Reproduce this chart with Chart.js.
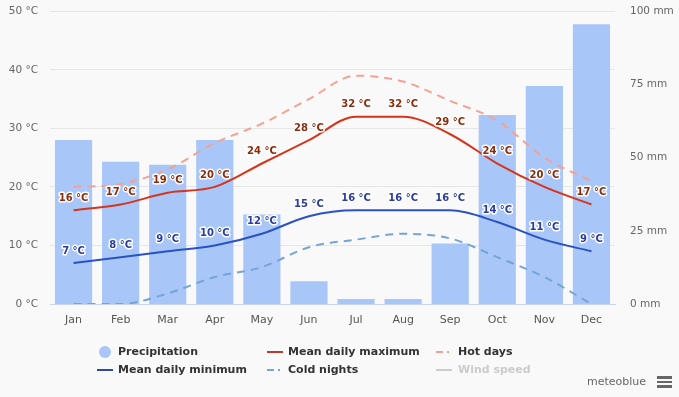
<!DOCTYPE html>
<html>
<head>
<meta charset="utf-8">
<script src="https://cdn.jsdelivr.net/npm/chart.js@4"></script>
<style>
  body { margin: 0; background: #f9f9f9; font-family: "DejaVu Sans", Verdana, sans-serif; }
  #wrap { position: relative; width: 679px; height: 397px; overflow: hidden; }
  #myChart { position: absolute; left: 0; top: -10px; }
  .legend { position: absolute; left: 0; top: 0; font-size: 11px; font-weight: bold; color: #333; }
  .item { position: absolute; white-space: nowrap; }
  .sym { position: absolute; }
  .brand { position: absolute; left: 587px; top: 375px; font-size: 11px; color: #666; }
  .burger { position: absolute; left: 657px; top: 376px; width: 15px; }
  .burger div { height: 2.5px; background: #666; margin-bottom: 2px; }
</style>
</head>
<body>
<div id="wrap">
  <canvas id="myChart" width="679" height="407"></canvas>
  <div class="legend" id="legend"></div>
  <div class="brand">meteoblue</div>
  <div class="burger"><div></div><div></div><div></div></div>
</div>
<script>
const months = ['Jan', 'Feb', 'Mar', 'Apr', 'May', 'Jun', 'Jul', 'Aug', 'Sep', 'Oct', 'Nov', 'Dec'];
const precipitation = [56, 48.6, 47.6, 56, 30.6, 7.8, 1.7, 1.7, 20.7, 64.6, 74.5, 95.6];
const meanMax = [16, 17, 19, 20, 24, 28, 32, 32, 29, 24, 20, 17];
const meanMin = [7, 8, 9, 10, 12, 15, 16, 16, 16, 14, 11, 9];
const hotDays = [20, 20.5, 23, 27.5, 30.8, 35, 39, 38, 34.7, 31.3, 25, 21];
const coldNights = [0, 0, 1.8, 4.6, 6.3, 9.7, 11, 12, 11.2, 8, 4.6, 0];

const valueLabels = {
  id: 'valueLabels',
  afterDatasetsDraw(chart) {
    const ctx = chart.ctx;
    ctx.save();
    ctx.font = 'bold 10px "DejaVu Sans", Verdana, sans-serif';
    ctx.textAlign = 'center';
    ctx.textBaseline = 'middle';
    ctx.lineJoin = 'round';
    chart.data.datasets.forEach((ds, i) => {
      if (!ds.labelColor) return;
      chart.getDatasetMeta(i).data.forEach((pt, j) => {
        const txt = ds.data[j] + ' °C';
        ctx.lineWidth = 3;
        ctx.strokeStyle = '#ffffff';
        ctx.strokeText(txt, pt.x, pt.y - 12);
        ctx.fillStyle = ds.labelColor;
        ctx.fillText(txt, pt.x, pt.y - 12);
      });
    });
    ctx.restore();
  }
};

const ctx = document.getElementById('myChart').getContext('2d');
new Chart(ctx, {
  data: {
    labels: months,
    datasets: [
      { type: 'line', label: 'Mean daily maximum', data: meanMax, yAxisID: 'y',
        borderColor: '#d5351c', borderWidth: 2, pointRadius: 0, cubicInterpolationMode: 'monotone',
        labelColor: '#8a2d0c', order: 1 },
      { type: 'line', label: 'Hot days', data: hotDays, yAxisID: 'y',
        borderColor: '#f2a293', borderWidth: 2, borderDash: [8, 6], pointRadius: 0, cubicInterpolationMode: 'monotone', order: 2 },
      { type: 'line', label: 'Mean daily minimum', data: meanMin, yAxisID: 'y',
        borderColor: '#2a52c2', borderWidth: 2, pointRadius: 0, cubicInterpolationMode: 'monotone',
        labelColor: '#2b3d9e', order: 1 },
      { type: 'line', label: 'Cold nights', data: coldNights, yAxisID: 'y',
        borderColor: '#76a3d8', borderWidth: 2, borderDash: [8, 6], pointRadius: 0, cubicInterpolationMode: 'monotone', order: 2 },
      { type: 'bar', label: 'Precipitation', data: precipitation, yAxisID: 'y1',
        backgroundColor: '#a8c7f8', categoryPercentage: 1, barPercentage: 0.79, order: 3 }
    ]
  },
  options: {
    responsive: false,
    animation: false,
    layout: { padding: { top: 4, left: 0, right: 0, bottom: 0 } },
    plugins: { legend: { display: false }, tooltip: { enabled: false } },
    scales: {
      x: {
        grid: { display: false, drawTicks: false },
        border: { color: '#ccd6eb' },
        ticks: { color: '#555', font: { size: 11, family: '"DejaVu Sans", Verdana, sans-serif' }, padding: 10 },
        afterFit: (s) => { s.height = 93; }
      },
      y: {
        position: 'left', min: 0, max: 50,
        grid: { color: '#e6e6e6', drawTicks: false },
        border: { display: false },
        ticks: { stepSize: 10, color: '#666', padding: 12, font: { size: 10.5, family: '"DejaVu Sans", Verdana, sans-serif' },
          callback: (v) => v + ' °C' },
        afterFit: (s) => { s.width = 50; }
      },
      y1: {
        position: 'right', min: 0, max: 100,
        grid: { display: false, drawTicks: false },
        border: { display: false },
        ticks: { stepSize: 25, color: '#666', padding: 15, font: { size: 10.5, family: '"DejaVu Sans", Verdana, sans-serif' },
          callback: (v) => v + ' mm' },
        afterFit: (s) => { s.width = 64; }
      }
    }
  },
  plugins: [valueLabels]
});

// HTML legend, laid out in three columns like the original
const legendItems = [
  { text: 'Precipitation', x: 99, tx: 118, y: 345, kind: 'dot', color: '#a8c7f8' },
  { text: 'Mean daily maximum', x: 267, tx: 288, y: 345, kind: 'line', color: '#c0392b' },
  { text: 'Hot days', x: 436, tx: 458, y: 345, kind: 'dash', color: '#f2a293' },
  { text: 'Mean daily minimum', x: 97, tx: 118, y: 363, kind: 'line', color: '#2b4c9e' },
  { text: 'Cold nights', x: 267, tx: 288, y: 363, kind: 'dash', color: '#76a3d8' },
  { text: 'Wind speed', x: 436, tx: 458, y: 363, kind: 'line', color: '#cccccc', muted: true }
];
const legend = document.getElementById('legend');
legendItems.forEach((it) => {
  const sym = document.createElement('div');
  sym.className = 'sym';
  if (it.kind === 'dot') {
    sym.style.cssText = `left:${it.x}px;top:${it.y + 1}px;width:12px;height:12px;border-radius:6px;background:${it.color}`;
  } else if (it.kind === 'line') {
    sym.style.cssText = `left:${it.x}px;top:${it.y + 6}px;width:16px;height:2px;background:${it.color}`;
  } else {
    sym.style.cssText = `left:${it.x}px;top:${it.y + 6}px;width:16px;height:2px;background:linear-gradient(90deg, ${it.color} 0 7px, transparent 7px 11px, ${it.color} 11px 13px, transparent 13px)`;
  }
  legend.appendChild(sym);
  const label = document.createElement('div');
  label.className = 'item';
  label.textContent = it.text;
  label.style.left = it.tx + 'px';
  label.style.top = it.y + 'px';
  if (it.muted) label.style.color = '#cccccc';
  legend.appendChild(label);
});
</script>
</body>
</html>
